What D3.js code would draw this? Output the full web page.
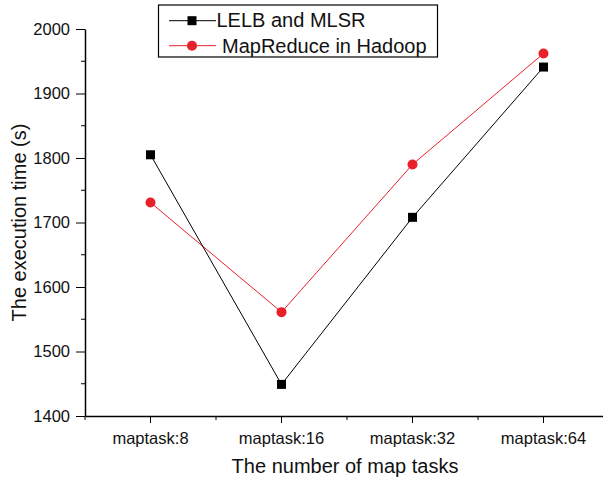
<!DOCTYPE html>
<html>
<head>
<meta charset="utf-8">
<script src="https://cdn.jsdelivr.net/npm/d3@7"></script>
<style>
  body { margin: 0; background: #fff; }
  svg { display: block; font-family: Arial, "Liberation Sans", sans-serif; }
</style>
</head>
<body>
<svg id="chart" width="603" height="480"></svg>
<script>
var categories = ["maptask:8", "maptask:16", "maptask:32", "maptask:64"];
var lelbValues = [1805, 1449, 1708, 1941];
var hadoopValues = [1731, 1561, 1790, 1962];
var yTicks = [1400, 1500, 1600, 1700, 1800, 1900, 2000];
var seriesNames = ["LELB and MLSR", "MapReduce in Hadoop"];

var svg = d3.select("#chart");
var plotLeft = 85, plotRight = 609, plotTop = 29, plotBottom = 416;
var FONT = "Arial, Liberation Sans, sans-serif";
var RED = "#e8202a";

var x = d3.scaleBand().domain(categories).range([plotLeft, plotRight]);
var y = d3.scaleLinear().domain([1400, 2000]).range([plotBottom, plotTop]);

// y axis with minor ticks
var minorY = d3.range(1450, 2000, 100);
svg.append("g").selectAll("line").data(minorY).enter().append("line")
    .attr("x1", plotLeft - 4).attr("x2", plotLeft)
    .attr("y1", function(d) { return y(d); }).attr("y2", function(d) { return y(d); })
    .attr("stroke", "#000");
var yAxis = svg.append("g")
    .attr("transform", "translate(" + plotLeft + ",0)")
    .call(d3.axisLeft(y).tickValues(yTicks).tickFormat(d3.format("d")).tickSize(9).tickSizeOuter(0).tickPadding(6));
yAxis.select(".domain").attr("stroke-width", 1.5);
yAxis.attr("font-size", 16.5).attr("font-family", FONT);
yAxis.selectAll("text").attr("fill", "#111");

// x axis: major ticks at category centres, minor ticks at band edges
svg.append("g").selectAll("line").data(categories).enter().append("line")
    .attr("x1", function(d) { return x(d); }).attr("x2", function(d) { return x(d); })
    .attr("y1", plotBottom).attr("y2", plotBottom + 4)
    .attr("stroke", "#000");
var xAxis = svg.append("g")
    .attr("transform", "translate(0," + plotBottom + ")")
    .call(d3.axisBottom(x).tickSize(7).tickSizeOuter(0).tickPadding(9));
xAxis.select(".domain").attr("stroke-width", 1.5);
xAxis.attr("font-size", 16.5).attr("font-family", FONT);
xAxis.selectAll("text").attr("fill", "#111");

// axis titles
svg.append("text")
    .attr("x", 345).attr("y", 473)
    .attr("text-anchor", "middle").attr("font-size", 20).attr("fill", "#111")
    .text("The number of map tasks");
svg.append("text")
    .attr("transform", "translate(26," + ((plotTop + plotBottom) / 2) + ") rotate(-90)")
    .attr("text-anchor", "middle").attr("font-size", 20).attr("fill", "#111")
    .text("The execution time (s)");

var cx = function(d, i) { return x(categories[i]) + x.bandwidth() / 2; };
var line = d3.line().x(cx).y(function(d) { return y(d); });

// hadoop series
svg.append("path").datum(hadoopValues)
    .attr("d", line).attr("fill", "none").attr("stroke", RED).attr("stroke-width", 1);
// lelb series
svg.append("path").datum(lelbValues)
    .attr("d", line).attr("fill", "none").attr("stroke", "#000").attr("stroke-width", 1);

svg.append("g").selectAll("circle").data(hadoopValues).enter().append("circle")
    .attr("cx", cx).attr("cy", function(d) { return y(d); })
    .attr("r", 5).attr("fill", RED);
svg.append("g").selectAll("rect").data(lelbValues).enter().append("rect")
    .attr("x", function(d, i) { return cx(d, i) - 4.5; })
    .attr("y", function(d) { return y(d) - 4.5; })
    .attr("width", 9).attr("height", 9).attr("fill", "#000");

// legend
var legend = svg.append("g");
legend.append("rect")
    .attr("x", 158.5).attr("y", 5).attr("width", 279).attr("height", 52)
    .attr("fill", "#fff").attr("stroke", "#000").attr("stroke-width", 1.2);
var legColors = ["#000", RED];
var legRows = legend.selectAll("g.row").data(seriesNames).enter().append("g")
    .attr("class", "row")
    .attr("transform", function(d, i) { return "translate(0," + (20.7 + i * 25) + ")"; });
legRows.append("line")
    .attr("x1", 169).attr("x2", 216).attr("y1", 0).attr("y2", 0)
    .attr("stroke", function(d, i) { return legColors[i]; });
legRows.each(function(d, i) {
    var g = d3.select(this);
    if (i == 0) {
        g.append("rect").attr("x", 187.5).attr("y", -4.5).attr("width", 9).attr("height", 9).attr("fill", "#000");
    } else {
        g.append("circle").attr("cx", 192).attr("cy", 0).attr("r", 5).attr("fill", RED);
    }
});
legRows.append("text")
    .attr("x", function(d, i) { return i == 0 ? 216.5 : 222; })
    .attr("y", function(d, i) { return i == 0 ? 6 : 7; })
    .attr("font-size", 20).attr("fill", "#111")
    .text(function(d) { return d; });
</script>
</body>
</html>
